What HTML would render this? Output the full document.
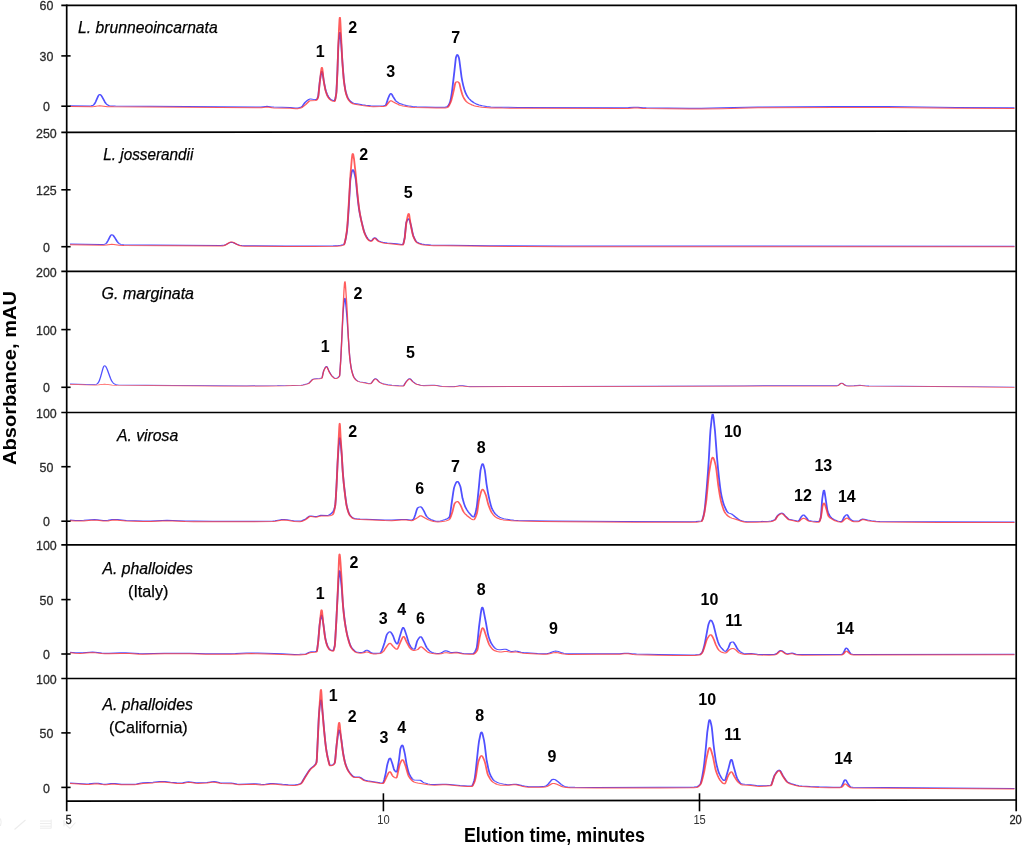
<!DOCTYPE html>
<html><head><meta charset="utf-8"><title>Chromatograms</title>
<style>
html,body{margin:0;padding:0;background:#fff;overflow:hidden;width:1024px;height:845px;}
svg{display:block;will-change:transform;}
text{font-family:"Liberation Sans", sans-serif;}
.b{fill:none;stroke:#5050ff;stroke-width:1.00;stroke-linejoin:round;}
.r{fill:none;stroke:#ff3434;stroke-opacity:0.80;stroke-width:1.00;stroke-linejoin:round;}
</style></head><body>
<svg width="1024" height="845" viewBox="0 0 1024 845">
<defs><filter id="bl" x="-1%" y="-1%" width="102%" height="102%"><feGaussianBlur stdDeviation="0 0.8"/></filter></defs>
<rect width="1024" height="845" fill="#fff"/>
<g transform="scale(1.800,1)">
<path d="M38.89 105.80L49.72,105.90 50.69,105.81 51.39,105.51 51.81,105.13 52.08,104.74 52.64,103.54 53.19,101.70 54.58,95.91 55.00,94.83 55.28,94.51 55.42,94.48 55.83,94.76 56.11,95.21 56.39,95.84 56.81,97.05 58.19,101.71 58.75,103.22 59.17,104.09 59.72,104.93 60.28,105.45 60.97,105.81 61.81,105.98 64.17,106.08 142.78,107.05 145.00,106.96 147.50,106.38 148.33,106.31 149.03,106.39 150.97,106.93 152.08,107.10 161.25,107.41 164.03,107.96 164.72,108.00 165.42,107.89 166.53,107.50 167.50,106.90 168.06,105.90 169.44,102.48 170.83,100.31 171.67,99.33 172.08,99.06 172.64,99.01 174.86,99.62 175.56,99.69 175.83,99.44 176.11,98.88 176.67,97.00 176.81,95.95 177.64,81.83 178.19,75.40 178.47,72.84 178.61,71.98 178.75,71.49 178.89,71.45 179.03,71.97 179.17,72.95 179.86,80.70 180.69,88.57 181.11,91.39 181.67,94.21 182.08,95.79 182.50,96.93 183.06,98.21 183.61,99.20 184.03,99.73 184.72,100.27 185.28,100.58 185.83,100.70 185.97,100.51 186.11,99.96 186.39,97.94 186.81,93.17 186.94,90.65 187.50,69.20 187.92,47.81 188.19,40.58 188.47,35.34 188.61,33.58 188.75,32.57 188.89,32.51 189.03,33.63 189.17,35.72 189.58,44.52 190.28,63.30 190.97,78.76 191.39,84.76 191.81,89.45 192.08,91.84 192.64,95.19 193.19,97.68 193.75,99.37 194.72,101.35 195.28,102.20 195.69,102.67 196.39,103.16 197.36,103.58 201.25,104.76 203.19,105.25 205.97,105.75 207.78,105.90 213.06,105.69 213.61,105.57 214.17,105.30 214.31,105.10 214.58,104.12 215.56,98.56 216.39,95.20 216.81,93.92 217.08,93.52 217.22,93.51 217.36,93.64 217.64,94.22 218.33,96.51 219.58,100.13 219.86,100.76 220.42,101.62 221.39,102.80 222.50,103.78 224.03,104.67 225.69,105.46 227.50,106.10 229.17,106.46 231.53,106.69 236.25,106.95 241.81,107.17 247.22,107.20 247.78,107.03 248.33,106.59 248.89,105.94 249.17,105.36 249.44,104.52 250.00,102.20 250.42,99.18 250.97,93.28 251.25,89.63 252.50,70.37 253.19,58.68 253.33,57.40 253.61,55.83 253.89,54.80 254.03,54.61 254.17,54.67 254.44,55.35 254.72,56.55 255.00,58.16 255.28,61.25 256.39,76.72 256.81,81.02 257.36,85.54 257.92,89.13 258.47,92.05 259.03,94.31 259.72,96.60 260.56,98.63 261.67,100.61 263.19,102.62 264.58,104.00 266.11,104.96 267.92,105.77 270.28,106.45 272.64,106.97 275.14,107.21 287.64,107.45 346.25,107.67 349.17,107.60 352.22,107.20 353.33,107.14 354.44,107.22 357.22,107.65 359.03,107.78 382.92,108.30 389.58,108.22 400.97,107.87 421.11,107.02 464.44,106.60 493.06,106.62 531.25,107.47 563.61,107.70" class="b"/>
<path d="M38.89 106.60L51.11,106.70 52.50,106.52 54.58,105.88 55.42,105.78 56.53,105.92 59.72,106.68 63.19,106.86 142.92,107.85 145.14,107.74 147.50,107.18 148.33,107.11 149.17,107.22 151.11,107.76 152.22,107.91 161.25,108.21 164.31,108.79 165.56,108.65 167.22,107.93 167.92,107.33 169.86,104.41 171.39,101.65 171.94,100.94 172.36,100.70 175.56,100.49 175.83,100.22 176.25,99.28 176.67,97.80 176.81,96.80 177.08,92.81 177.50,84.98 178.33,71.55 178.61,68.33 178.75,67.54 178.89,67.48 179.03,68.31 179.17,69.87 179.86,81.30 180.14,84.34 180.83,90.48 181.53,94.38 181.94,96.12 182.22,97.00 182.92,98.71 183.47,99.78 184.03,100.53 184.58,100.97 185.28,101.38 185.83,101.50 185.97,101.31 186.11,100.76 186.39,98.74 186.81,93.97 186.94,91.48 187.22,82.09 187.50,70.00 187.92,46.26 188.33,28.72 188.61,19.88 188.75,17.61 188.89,17.43 189.03,19.75 189.17,23.91 190.14,59.88 190.56,71.10 190.97,79.62 191.25,83.74 191.81,90.25 192.22,93.60 192.92,97.34 193.47,99.43 193.89,100.49 194.44,101.65 195.00,102.60 195.42,103.17 196.11,103.80 197.08,104.27 202.36,105.86 205.56,106.49 207.36,106.69 211.39,106.61 213.06,106.49 213.61,106.36 214.17,106.10 214.44,105.79 215.56,103.21 216.39,101.57 216.81,100.92 217.08,100.71 217.22,100.70 217.64,100.97 218.47,101.97 219.72,103.16 221.53,104.74 222.36,105.36 224.03,106.08 226.53,106.80 228.33,107.15 230.42,107.40 237.78,107.82 242.36,107.98 247.22,108.00 248.06,107.78 248.75,107.32 249.03,106.89 249.72,104.73 250.28,102.55 250.83,99.79 251.25,96.99 252.08,90.48 252.64,85.34 252.92,83.31 253.06,82.67 253.19,82.36 253.61,81.90 254.03,81.70 254.31,81.80 254.72,82.32 255.14,83.17 255.28,83.74 256.11,90.20 256.81,94.38 257.36,96.91 257.92,98.77 258.47,100.29 259.03,101.45 259.72,102.53 260.69,103.67 261.94,104.74 263.33,105.71 264.58,106.34 266.11,106.83 267.78,107.21 272.92,107.88 279.17,108.11 290.14,108.27 346.53,108.47 349.17,108.40 352.22,108.00 353.33,107.94 354.44,108.02 357.22,108.45 359.03,108.58 383.06,109.10 389.58,109.02 400.97,108.67 421.11,107.82 464.44,107.40 493.06,107.42 531.25,108.27 563.61,108.50" class="r"/>
<path d="M38.89 244.10L55.69,244.60 57.08,244.58 57.92,244.38 58.61,243.87 59.03,243.27 59.31,242.71 60.00,240.71 61.25,236.13 61.67,235.12 61.94,234.78 62.08,234.73 62.50,234.92 62.78,235.28 63.06,235.80 63.61,237.21 65.00,241.26 65.56,242.52 65.97,243.25 66.53,243.93 67.08,244.36 67.78,244.65 68.75,244.80 84.03,245.07 122.50,245.52 123.89,245.35 124.86,244.99 125.69,244.41 127.50,242.75 128.06,242.43 128.47,242.34 129.03,242.41 129.72,242.74 131.94,244.53 133.06,245.18 134.31,245.55 135.97,245.71 158.75,245.90 185.14,245.72 186.81,245.67 188.06,245.52 189.31,245.22 190.42,244.77 190.97,244.48 191.11,244.27 191.25,243.89 191.53,242.65 192.08,238.58 192.78,231.25 193.19,222.67 193.75,207.96 194.58,181.05 194.72,178.70 195.28,173.00 195.69,170.35 195.83,169.90 195.97,169.71 196.11,169.76 196.25,170.00 196.67,171.66 197.22,175.43 197.64,179.18 197.92,183.62 198.47,194.32 199.03,203.12 199.44,208.92 200.00,214.60 200.69,220.24 201.94,229.34 202.50,232.55 203.06,234.86 203.75,237.29 204.31,238.75 204.58,239.29 205.00,239.88 205.69,240.64 206.11,240.80 206.39,240.65 206.81,240.00 207.78,238.02 208.06,237.74 208.33,237.73 208.75,238.16 209.86,240.26 210.14,240.66 210.42,240.91 211.39,241.58 212.50,242.16 213.61,242.57 215.14,242.95 220.42,243.82 223.06,244.45 223.75,244.49 223.89,244.28 224.03,243.79 224.31,242.16 224.86,237.40 225.42,226.87 225.69,222.69 225.97,221.25 226.39,219.79 226.81,218.95 227.08,218.81 227.22,219.00 227.50,220.04 228.33,225.34 229.17,232.74 229.58,235.67 230.42,239.10 230.83,240.44 231.25,241.46 231.67,242.10 232.50,242.89 233.33,243.51 234.31,244.04 235.83,244.51 239.44,245.00 251.11,245.33 271.67,245.70 313.47,246.06 563.61,246.20" class="b"/>
<path d="M38.89 244.70L57.50,245.22 59.17,245.06 61.25,244.44 62.08,244.33 63.19,244.46 66.25,245.23 68.89,245.44 122.22,246.12 123.61,245.96 124.72,245.50 125.69,244.65 127.08,242.94 127.64,242.35 128.19,242.00 128.61,241.94 129.17,242.09 129.72,242.46 131.81,244.65 132.92,245.55 134.17,246.07 135.97,246.31 159.31,246.50 174.03,246.45 186.11,246.30 187.36,246.22 188.61,246.01 189.72,245.67 190.83,245.16 190.97,245.08 191.11,244.84 191.25,244.40 191.67,241.93 192.22,236.62 192.78,229.66 193.06,223.84 193.33,216.41 194.72,174.30 195.42,159.48 195.69,155.39 195.83,154.16 195.97,153.62 196.11,153.77 196.25,154.45 196.67,158.84 197.64,174.64 198.47,191.77 199.17,203.79 199.72,211.27 200.56,219.52 201.25,225.06 201.94,230.00 202.36,232.46 202.92,234.92 203.61,237.45 204.31,239.35 204.72,240.10 205.28,240.83 205.69,241.24 205.97,241.38 206.25,241.36 206.53,241.08 207.64,238.84 207.92,238.45 208.19,238.30 208.47,238.42 208.75,238.76 209.72,240.62 210.14,241.26 211.25,242.10 212.50,242.76 213.61,243.17 215.28,243.58 220.42,244.42 222.92,245.02 223.75,245.09 223.89,244.88 224.17,243.67 224.44,241.72 224.86,238.04 225.69,223.67 226.25,218.00 226.67,214.79 226.94,213.71 227.08,213.61 227.22,214.06 227.36,215.04 228.19,224.94 228.89,231.31 229.31,234.63 229.58,236.27 230.00,238.10 230.56,240.18 230.97,241.42 231.39,242.31 231.81,242.84 232.78,243.72 233.89,244.44 234.72,244.81 235.56,245.05 238.89,245.55 240.97,245.69 246.94,245.84 269.58,246.27 290.00,246.51 312.64,246.65 563.61,246.80" class="r"/>
<path d="M38.89 383.90L51.67,384.62 52.92,384.52 53.33,384.37 53.75,384.07 54.17,383.55 54.44,383.02 54.86,381.87 55.14,380.84 55.83,377.24 57.22,368.22 57.64,366.45 57.92,365.83 58.06,365.71 58.33,365.81 58.61,366.19 58.89,366.86 59.17,367.77 59.72,370.16 61.39,378.44 61.94,380.57 62.50,382.18 63.06,383.30 63.75,384.16 64.58,384.66 65.69,384.90 111.94,385.60 137.08,385.80 154.03,385.63 161.94,385.35 167.36,385.02 168.33,384.78 169.31,384.42 170.42,383.87 171.39,383.27 171.94,382.51 173.33,379.84 173.75,379.24 174.03,378.99 174.58,378.83 177.50,378.42 178.19,378.21 178.75,377.92 178.89,377.67 179.03,377.00 179.58,372.38 179.86,370.52 180.69,367.50 181.11,366.60 181.39,366.40 181.53,366.49 181.81,367.11 182.92,371.72 183.89,374.53 184.44,375.88 185.42,377.51 185.97,378.15 186.39,378.30 187.08,378.10 187.78,377.45 188.47,376.23 188.61,375.90 188.75,374.48 189.31,359.50 190.56,313.95 190.83,307.66 191.25,300.65 191.39,299.13 191.53,298.25 191.67,298.21 191.81,299.28 191.94,301.26 192.78,317.80 194.03,351.29 194.31,357.27 194.72,363.54 195.00,366.89 195.28,369.54 195.69,372.49 196.25,375.61 196.53,376.79 196.81,377.69 197.64,379.47 198.47,380.69 199.03,381.21 200.00,381.74 202.92,382.69 205.00,383.52 205.69,383.59 206.11,383.22 206.53,382.45 207.50,380.07 207.92,379.20 208.33,378.68 208.61,378.60 208.89,378.74 209.31,379.25 210.42,381.36 210.97,382.17 212.22,383.26 213.33,383.96 215.42,384.68 217.78,385.21 221.53,385.67 224.03,385.80 224.17,385.71 224.44,385.21 225.42,382.16 226.39,380.06 226.94,379.07 227.22,378.75 227.50,378.60 227.78,378.69 228.06,379.01 229.31,381.49 230.83,383.46 231.53,384.05 233.61,385.05 234.58,385.32 235.42,385.40 239.86,385.13 241.25,385.12 242.36,385.33 245.69,386.34 250.00,386.58 252.22,386.55 255.00,385.74 255.97,385.60 257.08,385.69 259.86,386.28 261.11,386.40 306.11,386.29 413.19,385.75 464.03,385.74 465.00,385.64 465.56,385.35 466.11,384.73 466.94,383.45 467.22,383.17 467.50,383.07 467.78,383.14 468.06,383.34 469.31,384.87 469.86,385.36 470.56,385.67 471.53,385.78 474.44,385.73 477.78,385.24 478.61,385.31 480.83,385.75 482.78,385.87 518.33,386.29 563.61,387.00" class="b" style="stroke-width:0.75"/>
<path d="M38.89 384.30L47.78,384.85 52.92,385.04 54.72,384.90 57.08,384.31 58.06,384.20 59.17,384.34 62.36,385.13 65.00,385.33 122.50,386.12 138.19,386.20 148.75,386.13 158.61,385.88 167.08,385.46 168.06,385.27 169.17,384.88 170.42,384.27 171.39,383.67 171.94,382.91 173.33,380.24 173.75,379.64 174.03,379.39 174.58,379.23 177.50,378.82 178.19,378.61 178.75,378.32 178.89,378.07 179.03,377.40 179.58,372.78 179.86,370.92 180.69,367.90 181.11,367.00 181.39,366.80 181.53,366.89 181.81,367.51 182.92,372.12 183.89,374.93 184.58,376.56 185.42,377.91 185.97,378.55 186.25,378.69 186.53,378.69 187.22,378.41 187.92,377.66 188.47,376.63 188.61,376.30 188.75,374.88 189.31,359.99 189.58,350.55 190.00,334.57 190.56,309.31 191.11,290.51 191.39,283.58 191.53,281.81 191.67,281.64 191.81,283.08 191.94,285.72 192.64,303.90 192.92,313.22 193.47,335.90 194.03,351.99 194.31,357.67 194.58,362.02 195.00,367.29 195.28,369.94 195.97,374.57 196.53,377.19 196.81,378.09 197.08,378.75 197.50,379.61 198.06,380.54 198.89,381.50 199.72,382.01 200.69,382.41 203.06,383.14 204.86,383.88 205.69,383.99 206.11,383.62 206.53,382.85 207.50,380.47 207.92,379.60 208.33,379.08 208.61,379.00 208.89,379.14 209.31,379.65 210.42,381.76 210.97,382.57 212.22,383.66 213.33,384.36 215.42,385.08 217.78,385.61 221.53,386.07 224.03,386.20 224.17,386.11 224.44,385.61 225.42,382.56 226.39,380.46 226.94,379.47 227.22,379.15 227.50,379.00 227.78,379.09 228.06,379.41 229.31,381.89 230.83,383.86 231.53,384.45 233.61,385.45 234.58,385.72 235.42,385.80 239.86,385.53 241.25,385.52 242.36,385.73 245.69,386.74 250.00,386.98 252.22,386.95 255.00,386.14 255.97,386.00 257.08,386.09 259.86,386.68 261.11,386.80 306.11,386.69 413.19,386.15 464.03,386.14 465.00,386.03 465.56,385.72 466.11,385.05 466.94,383.68 467.22,383.38 467.50,383.27 467.78,383.34 468.06,383.56 469.31,385.20 469.86,385.73 470.56,386.06 471.53,386.18 474.44,386.13 477.78,385.64 478.61,385.71 480.83,386.15 482.78,386.27 518.33,386.69 563.61,387.40" class="r" style="stroke-width:0.75"/>
<path d="M38.89 520.04L41.94,520.41 44.86,520.49 46.53,520.34 50.56,519.71 52.50,519.60 54.03,519.76 57.36,520.39 58.89,520.50 60.00,520.30 62.36,519.53 63.47,519.40 65.28,519.57 70.14,520.47 79.58,520.97 83.75,520.96 90.14,520.40 92.78,520.30 95.83,520.41 102.92,520.95 107.64,521.07 118.06,521.20 139.31,521.19 151.53,520.98 152.92,520.71 156.25,519.61 157.78,519.40 159.44,519.64 163.47,520.89 166.67,521.10 167.22,520.99 167.78,520.69 169.58,519.18 170.14,518.54 171.53,516.52 171.94,516.10 172.22,515.94 172.92,515.95 174.72,516.52 175.42,516.60 176.11,516.42 177.64,515.58 178.33,515.33 181.81,515.50 182.36,515.37 182.92,514.97 183.61,514.15 184.31,513.06 185.00,511.70 185.42,510.40 185.69,509.16 186.11,506.53 186.25,505.17 186.53,499.06 186.94,486.22 187.50,464.08 188.06,448.17 188.47,439.47 188.61,438.07 188.75,437.72 188.89,438.33 189.03,439.69 189.44,446.81 189.86,455.55 190.42,471.61 190.97,482.95 191.81,496.02 192.50,504.78 192.78,507.00 193.33,510.60 193.75,512.76 194.17,514.40 194.58,515.47 195.42,516.99 196.11,517.91 196.81,518.43 198.19,518.75 200.00,518.98 213.75,520.02 217.64,520.07 223.06,519.50 225.00,519.40 225.83,519.49 227.92,520.03 228.75,520.08 229.03,519.92 229.44,519.43 229.86,518.71 230.00,518.25 230.69,514.91 231.53,509.76 231.94,508.10 232.22,507.71 232.78,507.17 233.19,506.91 233.61,506.80 233.89,506.91 234.17,507.29 234.72,508.64 235.56,511.09 236.53,515.00 236.94,516.20 237.50,517.21 238.06,518.05 239.17,519.30 241.25,520.78 242.08,521.16 242.78,521.30 243.75,521.21 244.72,520.92 245.83,520.39 247.36,519.47 248.47,518.73 249.03,518.20 249.58,517.36 249.72,517.05 249.86,516.34 250.14,513.78 250.83,504.35 251.81,492.22 252.22,487.98 252.78,485.00 253.33,482.78 253.75,481.72 254.03,481.42 254.17,481.41 254.44,481.69 254.86,482.72 255.69,486.13 255.97,488.13 256.94,498.19 257.78,503.52 258.47,506.87 259.31,509.66 259.86,511.15 260.42,512.43 262.22,516.18 262.78,516.87 263.06,517.00 263.19,516.97 263.47,516.40 263.89,514.48 264.31,511.71 264.72,508.42 265.00,505.01 265.28,500.61 266.11,485.90 266.67,474.68 266.94,470.40 267.50,466.00 267.78,464.52 267.92,464.06 268.06,463.82 268.19,463.85 268.33,464.11 268.61,465.23 269.31,470.01 269.58,473.48 270.28,484.00 270.97,491.49 271.53,496.56 272.08,500.99 272.64,504.99 273.06,507.40 273.47,509.14 274.17,511.41 274.86,513.16 275.56,514.49 276.53,515.97 277.50,517.12 278.47,517.92 279.72,518.67 280.83,519.08 283.47,519.76 285.56,520.16 287.64,520.42 295.42,520.76 306.11,521.05 346.67,521.52 383.33,521.70 386.67,521.55 389.58,521.02 389.72,520.97 389.86,520.78 390.14,519.96 390.42,518.61 390.69,516.86 391.25,512.56 391.67,506.99 392.64,487.79 393.33,471.65 393.75,460.53 394.44,437.29 394.72,430.07 395.42,418.20 395.69,415.19 395.83,414.41 395.97,414.21 396.11,414.69 396.39,417.29 397.22,430.98 398.33,457.40 398.89,468.26 399.44,477.83 400.00,486.27 400.42,491.73 400.83,495.75 401.53,501.02 402.08,504.37 402.64,506.99 403.61,510.56 404.03,511.74 404.31,512.34 404.58,512.77 405.00,513.17 406.25,513.91 406.67,514.25 407.22,514.95 408.47,516.89 410.14,519.13 410.83,519.82 411.94,520.57 413.47,521.39 414.17,521.62 414.86,521.70 422.78,521.50 427.08,521.17 428.47,520.94 429.44,520.46 430.56,519.54 430.97,518.62 431.67,516.35 432.08,515.34 432.92,514.18 433.47,513.56 434.03,513.18 434.44,513.10 434.72,513.25 435.14,513.77 436.25,515.88 437.92,518.78 438.33,519.20 439.03,519.54 440.83,520.12 442.78,520.98 443.33,521.09 443.61,521.06 443.75,520.90 444.03,520.30 444.86,517.57 445.14,516.85 445.97,515.23 446.25,514.94 446.39,514.90 446.67,515.05 446.94,515.45 448.06,517.75 448.89,519.75 449.17,520.27 449.44,520.57 450.83,521.05 452.22,521.37 453.89,521.57 455.00,521.55 455.14,521.34 455.42,520.49 455.69,519.15 455.97,517.39 456.11,515.81 456.25,512.72 456.67,501.18 456.81,498.83 457.36,492.25 457.64,490.45 457.78,490.20 457.92,490.55 458.19,492.86 459.58,509.47 459.72,510.60 460.00,512.14 460.56,514.52 460.97,515.83 461.39,516.80 462.08,518.01 462.78,518.92 463.47,519.59 464.86,520.61 465.69,521.11 466.53,521.46 467.36,521.60 467.64,521.39 468.06,520.34 468.75,517.77 469.17,516.52 470.00,515.11 470.28,514.81 470.56,514.70 470.69,514.77 470.97,515.29 471.67,517.49 472.08,518.44 472.92,519.77 473.47,520.50 474.03,520.98 474.44,521.10 476.67,521.10 476.94,521.01 477.50,520.57 478.61,519.37 479.03,519.07 479.31,519.00 480.14,519.19 481.94,520.07 484.03,520.63 486.67,521.19 488.75,521.40 522.08,521.86 563.61,522.00" class="b"/>
<path d="M38.89 520.64L41.94,521.01 44.86,521.09 46.53,520.94 50.56,520.31 52.50,520.20 54.03,520.36 57.36,520.99 58.89,521.10 60.00,520.90 62.36,520.13 63.47,520.00 65.28,520.17 70.14,521.07 79.58,521.57 83.75,521.56 90.14,521.00 92.78,520.90 95.83,521.01 102.92,521.55 107.64,521.67 118.06,521.80 139.31,521.79 151.53,521.58 152.92,521.31 156.25,520.21 157.78,520.00 159.44,520.24 163.47,521.49 166.67,521.70 167.22,521.59 167.78,521.29 169.58,519.78 170.14,519.14 171.53,517.12 171.94,516.70 172.22,516.54 172.92,516.55 174.72,517.12 175.42,517.20 176.11,517.02 177.64,516.18 178.33,515.93 182.08,516.09 183.06,515.87 183.89,515.45 184.72,514.80 184.86,514.60 185.14,513.82 185.42,512.52 185.69,510.74 185.97,508.52 186.25,505.65 186.53,499.48 187.08,482.10 188.06,442.27 188.47,427.47 188.61,424.23 188.75,423.37 188.89,425.54 189.31,439.54 189.86,453.74 190.28,467.87 190.56,475.46 191.25,488.38 191.94,498.60 192.36,503.94 192.64,506.59 193.19,510.37 193.75,513.36 194.17,515.00 194.72,516.35 195.56,517.81 196.25,518.65 196.94,519.08 198.33,519.37 200.14,519.59 213.75,520.62 217.64,520.67 223.06,520.10 225.00,520.00 225.83,520.09 227.78,520.61 228.61,520.70 229.17,520.50 229.72,520.02 230.83,518.91 232.08,517.47 233.19,515.96 233.47,515.75 233.75,515.71 234.31,516.05 236.25,518.16 238.06,519.80 239.03,520.46 240.97,521.43 242.08,521.81 243.19,521.90 244.86,521.71 246.67,521.27 247.92,520.85 248.61,520.44 249.31,519.77 249.72,519.21 249.86,518.91 250.14,518.01 250.42,516.81 251.39,511.59 252.22,505.33 252.50,503.73 252.78,502.98 253.33,502.06 253.75,501.63 254.17,501.51 254.44,501.72 254.72,502.18 255.69,504.67 256.11,506.10 256.94,509.75 257.36,511.34 257.78,512.44 258.33,513.66 259.44,515.61 261.67,518.74 262.50,519.58 262.92,519.78 263.19,519.78 263.33,519.67 263.61,519.19 264.03,517.91 264.58,515.46 265.00,513.18 265.28,510.44 265.97,501.55 266.25,499.00 266.94,493.97 267.36,491.44 267.78,489.76 268.06,489.31 268.33,489.44 268.75,490.34 269.17,491.82 269.86,494.78 270.14,496.36 270.97,502.49 271.39,505.10 272.36,509.72 272.78,511.35 273.19,512.68 273.89,514.38 274.44,515.54 275.14,516.74 275.69,517.48 276.53,518.26 277.50,518.96 278.47,519.49 279.58,519.89 284.17,520.66 288.33,521.07 300.28,521.49 314.03,521.78 353.19,522.17 383.47,522.30 386.81,522.14 389.58,521.62 389.72,521.57 390.00,520.95 390.56,518.56 390.97,515.80 391.39,512.07 391.94,506.01 392.50,499.09 393.61,477.90 393.89,473.54 394.58,465.89 395.14,460.74 395.56,458.18 395.83,457.38 395.97,457.30 396.11,457.42 396.25,457.70 396.67,459.32 397.08,461.79 397.64,465.76 398.06,470.68 399.03,485.39 399.86,494.87 400.42,500.14 400.83,503.09 401.53,507.25 402.08,510.03 402.50,511.73 403.06,513.40 403.89,515.12 404.72,516.42 405.56,517.36 406.53,518.07 408.75,519.22 411.25,520.95 413.47,522.00 414.17,522.21 414.86,522.30 420.00,522.22 425.83,521.88 427.92,521.68 428.61,521.49 429.58,520.96 430.56,520.14 430.97,519.22 431.67,516.95 432.08,515.94 432.92,514.78 433.47,514.16 434.03,513.78 434.44,513.70 434.72,513.85 435.14,514.37 437.78,519.18 438.19,519.70 438.89,520.09 440.83,520.72 442.64,521.53 443.19,521.68 443.61,521.68 444.03,521.26 445.14,519.33 445.97,518.39 446.25,518.22 446.53,518.22 446.94,518.44 447.92,519.38 449.03,520.83 449.44,521.18 450.83,521.63 452.22,521.95 453.61,522.14 454.86,522.20 455.00,522.14 455.28,521.48 455.56,520.29 455.97,517.96 456.25,515.46 456.94,506.48 457.36,504.16 457.64,503.24 457.78,503.10 457.92,503.23 458.06,503.58 458.33,504.78 459.17,509.54 460.00,515.06 460.28,516.25 460.56,516.89 460.97,517.62 461.39,518.18 463.47,520.50 465.42,521.67 466.81,522.15 467.50,522.18 467.78,521.96 468.19,521.31 469.17,519.45 470.00,518.36 470.28,518.10 470.56,518.00 470.97,518.28 471.94,519.74 473.19,521.02 473.89,521.55 474.44,521.70 476.67,521.70 476.94,521.61 477.50,521.17 478.61,519.97 479.03,519.67 479.31,519.60 480.14,519.79 481.94,520.67 484.03,521.23 486.67,521.79 488.75,522.00 522.08,522.46 563.61,522.60" class="r"/>
<path d="M38.89 652.23L41.81,652.66 44.58,652.80 46.11,652.69 49.72,652.17 51.39,652.11 52.92,652.27 56.53,652.98 58.19,653.18 60.56,653.17 66.94,652.85 69.72,652.81 72.08,652.97 77.22,653.58 79.31,653.70 91.39,653.20 105.28,653.21 114.31,653.70 128.19,653.70 130.83,653.58 136.94,653.09 139.72,653.00 143.19,653.10 156.94,653.85 163.61,654.39 166.53,654.32 169.58,653.97 170.28,653.61 171.67,652.45 172.22,652.09 173.06,651.85 175.14,651.57 175.83,651.33 175.97,651.13 176.11,650.31 176.25,648.95 176.81,640.82 177.50,625.82 177.64,623.75 178.19,617.38 178.47,615.45 178.61,615.04 178.75,615.11 178.89,615.73 179.03,616.79 179.72,624.74 180.56,636.58 180.97,640.24 181.53,643.97 181.81,645.34 182.22,646.88 182.64,648.16 183.06,649.13 183.33,649.58 184.03,650.21 184.58,650.53 185.00,650.58 185.14,650.39 185.28,650.00 185.69,647.80 185.97,645.64 186.11,643.39 186.81,622.29 187.36,602.18 188.06,580.05 188.33,573.36 188.47,571.40 188.61,570.70 188.75,571.08 188.89,572.13 189.31,578.08 189.86,588.33 190.56,605.31 191.25,617.13 191.67,622.78 192.08,627.46 192.64,632.81 193.06,636.16 194.17,643.11 194.72,645.74 195.14,647.13 196.25,649.61 196.81,650.58 197.22,651.16 197.64,651.61 198.06,651.92 199.44,652.38 200.56,652.52 201.39,652.37 202.08,651.87 203.33,650.42 203.61,650.26 203.89,650.22 204.17,650.32 204.58,650.66 205.69,652.08 206.25,652.69 207.08,653.19 207.92,653.34 209.17,653.29 211.11,652.91 211.39,652.71 211.67,652.14 211.94,651.25 212.64,648.08 213.75,642.14 214.58,636.31 214.86,634.78 215.14,633.90 215.69,632.70 216.11,632.06 216.53,631.72 216.81,631.75 217.08,632.08 217.64,633.45 218.47,636.26 219.31,640.53 219.58,641.62 220.28,643.56 220.56,643.96 220.69,643.99 220.83,643.81 220.97,643.40 221.25,642.05 221.94,637.52 223.33,629.34 223.75,627.79 223.89,627.56 224.03,627.50 224.17,627.62 224.44,628.31 224.86,630.12 225.83,635.26 226.94,642.14 227.36,644.10 228.06,646.40 228.61,647.84 229.03,648.55 229.58,649.04 230.14,649.29 230.28,649.28 230.42,649.04 230.56,648.58 230.83,647.15 231.53,642.42 231.81,640.91 232.36,639.16 232.92,637.70 233.33,636.96 233.61,636.72 233.75,636.70 233.89,636.78 234.17,637.22 234.58,638.40 235.83,642.89 236.81,646.77 237.22,648.00 238.06,649.80 238.75,651.07 239.44,652.01 240.00,652.47 241.11,652.97 242.22,653.32 243.19,653.46 244.03,653.39 245.00,652.97 245.56,652.50 246.81,651.14 247.22,650.86 247.64,650.78 248.33,650.99 250.00,652.18 250.83,652.53 251.39,652.56 253.06,652.22 253.75,652.21 254.58,652.40 256.67,653.24 257.50,653.47 261.11,653.76 262.64,653.80 262.92,653.70 263.33,653.14 263.89,651.68 264.44,649.55 264.86,647.48 265.00,646.13 265.28,642.09 266.11,627.15 267.08,613.59 267.50,609.13 267.78,607.49 267.92,607.21 268.06,607.30 268.19,607.68 268.61,610.19 270.00,623.15 270.97,633.00 271.39,636.26 272.08,639.99 272.78,642.85 273.61,645.19 274.58,647.38 275.14,648.35 275.56,648.89 275.97,649.24 276.67,649.54 277.36,649.70 278.06,649.72 280.14,649.20 280.83,649.22 281.53,649.57 283.06,650.94 283.89,651.42 284.44,651.46 285.97,651.12 286.67,651.12 287.36,651.32 289.44,652.28 290.83,652.61 298.61,653.50 301.53,653.67 303.06,653.66 304.03,653.51 304.86,653.22 305.69,652.75 307.64,651.40 308.19,651.15 308.75,651.07 309.31,651.14 310.00,651.40 312.22,652.81 313.33,653.37 314.58,653.71 315.97,653.85 332.36,653.70 342.64,653.77 344.31,653.66 346.94,653.22 347.92,653.15 349.03,653.25 351.81,653.87 353.61,654.09 366.11,654.57 375.69,654.82 383.61,654.90 386.39,654.79 388.75,654.48 389.03,654.27 389.31,653.91 390.00,652.50 390.28,651.59 390.56,650.23 391.25,645.77 391.67,642.57 393.33,626.53 393.61,624.32 393.75,623.53 394.31,621.23 394.58,620.44 394.86,620.10 395.14,620.31 395.42,620.95 395.83,622.45 396.39,624.93 398.19,637.95 398.75,641.15 399.31,643.85 399.72,645.37 400.28,646.88 400.83,648.08 401.94,650.18 402.36,650.86 402.78,651.30 403.06,651.40 403.19,651.36 403.47,651.03 403.89,650.12 404.72,647.63 405.56,643.57 405.83,642.66 405.97,642.48 406.53,642.08 407.22,641.91 407.50,642.22 407.78,642.86 408.61,645.24 409.58,648.52 409.86,649.24 410.28,650.07 411.11,651.48 411.81,652.38 412.92,653.42 413.61,653.79 417.36,653.51 418.47,653.67 420.83,654.29 421.94,654.48 427.22,654.60 429.86,654.51 430.56,654.29 431.25,653.76 431.81,653.02 433.06,650.94 433.47,650.56 433.75,650.50 434.17,650.62 434.58,650.95 436.25,653.04 436.67,653.44 437.08,653.69 437.50,653.79 437.92,653.75 439.31,653.16 440.00,653.08 440.56,653.27 442.22,654.23 443.33,654.51 445.83,654.56 467.08,654.42 467.78,654.19 468.06,653.92 468.33,653.47 468.75,652.36 469.72,648.71 470.00,648.13 470.14,648.04 470.42,648.15 470.83,648.85 471.94,651.99 472.36,652.96 472.64,653.44 472.92,653.79 473.33,654.12 473.75,654.29 474.44,654.39 563.61,654.20" class="b"/>
<path d="M38.89 652.83L41.81,653.26 44.58,653.40 46.11,653.29 49.72,652.77 51.39,652.71 52.92,652.87 56.53,653.58 58.19,653.78 60.56,653.77 66.94,653.45 69.72,653.41 72.08,653.57 77.22,654.18 79.31,654.30 91.39,653.80 105.28,653.81 114.31,654.30 128.19,654.30 130.83,654.18 136.94,653.69 139.72,653.60 143.19,653.70 156.94,654.45 163.61,654.99 166.53,654.92 169.58,654.57 170.28,654.21 171.67,653.05 172.22,652.69 173.06,652.45 175.14,652.17 175.83,651.93 175.97,651.73 176.11,650.91 176.25,649.55 176.81,641.42 177.50,626.79 178.06,616.46 178.33,612.09 178.47,610.63 178.61,609.87 178.75,610.00 178.89,611.13 179.03,613.04 179.58,623.41 180.42,635.60 180.69,638.54 181.25,642.86 181.67,645.30 181.94,646.50 182.50,648.36 182.92,649.45 183.33,650.18 183.89,650.70 184.44,651.07 185.00,651.18 185.14,650.99 185.42,650.02 185.69,648.40 185.97,646.24 186.25,640.54 186.94,618.38 187.50,598.03 188.33,558.75 188.47,555.27 188.61,554.00 188.75,554.65 188.89,556.43 189.17,562.40 189.72,577.39 190.42,601.89 190.69,608.70 190.97,613.75 191.39,619.94 191.94,626.57 192.50,632.17 193.06,636.76 193.75,641.30 194.44,645.12 195.00,647.33 195.56,648.74 196.11,649.94 197.08,651.58 197.50,652.08 197.92,652.43 199.17,652.91 200.42,653.14 201.39,653.10 202.08,652.84 203.33,652.02 203.75,651.91 204.17,652.00 204.58,652.23 206.25,653.55 207.22,653.90 208.06,653.96 209.17,653.88 211.39,653.41 212.08,652.78 213.06,651.30 213.33,650.64 213.89,648.89 215.56,644.64 216.11,643.67 216.39,643.40 216.67,643.30 216.94,643.44 217.22,643.83 218.33,646.30 219.58,648.50 220.14,649.18 220.42,649.30 220.56,649.26 220.83,648.81 221.25,647.46 222.22,643.13 223.47,638.11 223.89,636.86 224.17,636.51 224.31,636.53 224.44,636.69 224.72,637.36 225.83,641.92 227.08,646.15 227.64,647.75 228.06,648.60 228.75,649.64 229.17,650.14 229.58,650.44 230.00,650.49 230.56,650.36 231.94,649.60 232.36,649.10 233.33,647.28 233.61,646.93 233.89,646.80 234.31,647.00 234.72,647.50 237.22,651.54 237.78,652.25 239.03,653.10 240.42,653.59 242.36,654.00 243.75,654.07 245.00,653.83 246.81,652.89 247.50,652.69 248.33,652.74 250.00,653.20 250.83,653.31 253.47,652.80 254.58,653.00 256.67,653.84 257.50,654.07 260.83,654.35 262.92,654.35 263.47,653.93 264.17,652.84 265.00,650.82 265.28,649.72 265.56,647.38 266.39,638.09 267.08,632.79 267.64,629.21 267.92,628.14 268.06,627.87 268.19,627.80 268.47,628.18 268.89,629.66 271.25,642.36 271.67,644.23 272.36,646.32 273.19,648.37 273.89,649.66 274.58,650.48 276.25,651.52 277.64,651.96 278.61,651.96 280.28,651.51 280.97,651.44 281.67,651.55 283.19,652.12 283.89,652.26 286.53,651.99 287.22,652.12 289.17,652.85 290.28,653.13 298.19,654.06 301.94,654.29 303.89,654.21 305.28,653.84 307.78,652.65 308.75,652.47 310.00,652.71 312.22,653.72 313.33,654.12 314.58,654.36 315.97,654.46 332.22,654.30 342.64,654.37 344.31,654.26 346.94,653.82 347.92,653.75 349.03,653.85 351.81,654.47 353.47,654.68 365.00,655.13 375.00,655.41 383.33,655.50 386.11,655.41 388.61,655.11 388.89,654.99 389.31,654.49 390.14,652.74 390.56,651.15 391.39,647.02 392.36,641.14 392.78,639.18 393.47,637.07 394.03,635.68 394.44,634.98 394.86,634.70 395.00,634.74 395.28,635.12 395.83,636.74 396.67,639.88 397.64,644.64 398.75,648.61 399.03,649.36 399.44,650.20 400.00,651.09 400.56,651.79 401.11,652.27 401.94,652.71 402.64,652.95 403.19,652.97 403.47,652.76 403.75,652.38 404.86,650.24 405.28,649.65 406.39,648.69 406.81,648.47 407.22,648.40 407.78,648.71 408.89,650.04 410.14,652.32 410.56,652.90 411.39,653.44 413.06,654.22 413.61,654.39 417.36,654.11 418.47,654.27 420.83,654.89 421.94,655.08 427.22,655.20 429.86,655.11 430.56,654.89 431.25,654.36 431.81,653.62 433.06,651.54 433.47,651.16 433.75,651.10 434.17,651.22 434.58,651.55 436.25,653.64 436.67,654.04 437.08,654.29 437.50,654.39 437.92,654.35 439.31,653.76 440.00,653.68 440.56,653.87 442.22,654.83 443.33,655.11 445.56,655.16 466.94,655.04 467.78,654.89 468.33,654.45 468.75,653.78 469.72,651.55 470.00,651.20 470.14,651.14 470.42,651.21 470.83,651.63 471.94,653.54 472.64,654.42 473.33,654.84 474.31,654.99 563.61,654.80" class="r"/>
<path d="M38.89 782.96L48.06,783.89 49.44,783.83 52.36,783.30 53.61,783.20 54.58,783.32 56.94,784.02 58.06,784.20 59.03,784.13 61.67,783.60 62.78,783.50 63.89,783.59 67.50,784.19 74.58,784.20 75.83,783.99 78.47,783.07 79.44,782.83 85.00,782.28 88.61,781.53 90.14,781.40 91.67,781.55 94.72,782.20 98.19,782.80 100.42,783.00 101.53,782.83 103.75,782.02 104.72,781.81 105.97,781.92 108.75,782.72 110.00,782.80 115.00,782.47 117.78,781.70 118.89,781.61 120.00,781.83 122.22,782.66 123.19,782.93 128.33,783.04 129.31,783.25 131.67,784.01 132.92,784.20 140.97,783.70 142.22,783.82 145.00,784.33 146.25,784.40 147.50,784.23 150.14,783.60 151.53,783.50 153.19,783.65 156.94,784.29 160.14,784.70 163.06,784.90 163.89,784.82 164.86,784.58 165.83,784.19 166.81,783.68 167.08,783.41 167.36,782.96 167.92,781.66 169.44,777.01 171.39,771.45 172.08,769.62 172.78,768.20 174.31,766.05 175.14,764.50 175.56,763.37 175.83,762.10 175.97,760.05 176.11,756.00 176.94,723.06 177.22,713.78 177.64,706.29 177.92,702.50 178.19,700.30 178.33,700.00 178.47,700.52 178.75,703.97 179.44,716.79 180.14,731.59 180.69,741.43 181.11,747.71 181.53,752.51 182.08,757.64 182.78,762.75 183.06,764.43 183.19,764.98 183.33,765.27 183.75,765.25 184.31,765.03 185.00,764.56 185.28,764.23 185.56,763.74 185.97,762.59 186.11,761.42 186.25,759.45 186.94,745.88 187.64,736.22 188.06,731.61 188.33,730.05 188.47,729.91 188.61,730.22 188.75,730.90 189.17,734.51 189.72,740.51 190.56,752.40 191.11,757.86 191.53,761.33 191.94,764.10 192.64,767.43 193.33,770.05 194.17,772.38 195.69,775.60 196.25,776.44 196.67,776.84 197.08,777.00 199.31,777.00 199.72,777.10 200.42,777.67 202.08,779.75 202.78,780.30 204.17,780.81 207.50,781.65 211.11,782.80 212.64,783.00 212.78,782.92 213.06,782.10 213.47,779.66 214.31,773.28 215.00,766.17 215.28,763.85 215.97,759.87 216.25,758.72 216.53,758.14 216.67,758.12 216.81,758.29 216.94,758.64 217.22,759.74 218.06,764.09 218.75,768.68 219.03,770.05 219.44,771.10 219.86,771.85 220.14,772.09 220.28,772.07 220.42,771.74 220.56,771.08 220.83,769.00 221.67,760.07 222.36,749.55 222.50,748.40 222.92,746.39 223.19,745.49 223.47,745.10 223.61,745.19 223.89,746.12 224.44,749.88 225.00,754.49 225.83,763.83 226.39,768.30 226.94,772.08 227.36,774.11 228.19,776.71 228.89,778.44 229.31,779.20 229.58,779.57 229.86,779.81 230.14,779.90 233.33,780.15 233.89,780.64 234.86,782.01 235.42,782.58 237.78,783.86 238.75,784.24 239.72,784.50 241.39,784.59 245.83,784.14 247.78,784.13 249.86,784.39 255.56,785.46 259.86,785.91 262.08,785.98 262.22,785.83 262.50,785.19 262.92,783.52 263.47,780.41 263.75,778.31 264.17,772.83 265.69,747.31 266.11,741.33 266.94,734.13 267.22,732.66 267.36,732.25 267.50,732.10 267.64,732.23 267.78,732.58 268.06,733.87 268.89,740.20 269.31,745.03 270.28,759.53 271.25,768.26 271.67,771.22 272.08,773.56 272.64,775.74 273.19,777.56 273.89,779.41 274.44,780.51 275.00,781.26 275.97,782.17 276.94,782.84 277.92,783.36 280.42,784.36 281.81,784.68 282.92,784.65 285.56,784.13 286.67,784.16 287.50,784.44 289.86,785.56 292.36,786.36 293.61,786.64 299.31,786.70 301.67,786.61 302.78,786.28 303.33,785.88 303.75,785.43 304.58,784.08 306.39,780.14 306.94,779.41 307.36,779.23 308.06,779.45 308.89,780.18 309.58,781.09 311.67,784.26 312.36,785.13 313.06,785.83 313.75,786.35 314.58,786.78 315.42,787.04 316.53,787.21 319.44,787.32 330.56,787.40 366.11,787.33 383.75,787.19 385.56,787.08 387.08,786.84 387.50,786.58 388.06,785.95 388.47,785.27 389.03,784.13 389.17,783.69 389.44,782.31 390.00,777.97 390.83,769.27 391.25,763.47 392.08,748.98 392.92,732.36 393.75,722.09 394.03,720.15 394.17,719.74 394.31,719.76 394.44,720.08 394.72,721.45 395.14,724.62 395.42,727.27 395.69,731.54 396.39,744.28 396.94,752.08 397.64,760.55 398.33,766.44 399.03,771.00 399.44,773.10 399.72,774.20 400.56,777.04 401.11,778.66 401.67,779.89 401.94,780.29 402.22,780.54 402.50,780.58 402.64,780.42 402.78,780.09 403.06,779.02 403.47,776.65 404.72,768.54 405.69,761.54 405.97,760.15 406.11,759.70 406.25,759.44 406.39,759.42 406.53,759.68 406.81,760.88 407.64,766.82 408.89,774.92 409.31,777.25 409.58,778.41 410.28,780.59 410.83,782.07 411.25,782.94 411.81,783.68 412.78,784.08 414.03,784.37 416.94,784.83 420.28,785.61 421.81,785.79 424.03,785.76 426.39,785.57 428.19,785.25 428.47,784.71 428.75,783.68 430.00,776.62 430.42,774.84 431.39,772.27 431.94,771.06 432.50,770.28 432.92,770.10 433.19,770.31 433.61,771.17 435.00,775.91 436.39,779.60 437.08,781.19 437.64,782.07 438.33,782.75 439.17,783.38 442.08,784.97 443.75,785.64 445.56,785.96 450.14,786.50 455.14,786.87 462.78,787.14 465.69,787.19 466.53,787.13 467.08,786.82 467.36,786.47 467.64,785.91 468.06,784.60 469.03,780.55 469.31,779.90 469.44,779.78 469.72,779.87 470.14,780.59 471.39,784.55 471.81,785.62 472.08,786.16 472.36,786.56 472.78,786.95 473.19,787.16 473.89,787.30 563.61,788.50" class="b"/>
<path d="M38.89 783.56L48.06,784.49 49.44,784.43 52.36,783.90 53.61,783.80 54.58,783.92 56.94,784.62 58.06,784.80 59.03,784.73 61.67,784.20 62.78,784.10 63.89,784.19 67.50,784.79 74.58,784.80 75.83,784.59 78.47,783.67 79.44,783.43 85.00,782.88 88.61,782.13 90.14,782.00 91.67,782.15 94.72,782.80 98.19,783.40 100.42,783.60 101.53,783.43 103.75,782.62 104.72,782.41 105.97,782.52 108.75,783.32 110.00,783.40 115.00,783.07 117.78,782.30 118.89,782.21 120.00,782.43 122.22,783.26 123.19,783.53 128.33,783.64 129.31,783.85 131.67,784.61 132.92,784.80 140.97,784.30 142.22,784.42 145.00,784.93 146.25,785.00 147.50,784.83 150.14,784.20 151.53,784.10 153.19,784.25 156.94,784.89 160.14,785.30 163.06,785.50 163.89,785.42 164.86,785.18 165.83,784.79 166.81,784.28 167.08,784.01 167.36,783.56 167.92,782.26 169.44,777.61 171.39,772.05 172.08,770.22 172.78,768.80 174.31,766.65 175.14,765.10 175.56,763.97 175.83,762.70 175.97,760.65 176.11,756.60 177.08,719.44 177.64,702.43 178.06,692.14 178.19,690.27 178.33,689.60 178.47,690.72 178.61,693.69 179.17,711.80 179.44,718.23 180.00,729.61 180.83,744.28 181.25,750.03 181.81,755.85 182.78,763.35 183.06,765.03 183.19,765.58 183.33,765.87 183.75,765.85 184.44,765.55 185.14,765.02 185.56,764.34 185.83,763.64 185.97,763.19 186.11,762.10 186.39,757.85 187.92,727.52 188.19,723.76 188.33,722.76 188.47,722.52 188.61,723.21 188.75,724.72 189.44,737.45 190.14,747.72 190.56,753.01 190.97,757.17 191.53,761.93 192.08,765.44 192.92,769.16 193.75,771.92 194.58,773.91 195.56,775.95 196.11,776.86 196.67,777.44 197.08,777.60 199.31,777.60 199.72,777.70 200.42,778.27 202.08,780.35 202.78,780.90 204.17,781.41 207.50,782.25 210.83,783.33 212.64,783.60 212.78,783.56 213.06,783.14 213.61,781.40 215.69,773.41 216.11,772.27 216.39,771.82 216.53,771.72 216.67,771.71 216.81,771.84 217.08,772.44 217.92,775.38 218.33,776.40 219.03,777.29 219.58,777.81 220.14,777.99 220.28,777.79 220.42,777.32 220.69,775.75 221.67,767.32 222.08,764.47 222.64,762.18 223.06,760.70 223.33,760.02 223.61,759.71 223.75,759.73 224.03,760.23 224.44,761.83 225.42,766.67 226.53,773.73 226.81,775.21 227.08,776.32 227.92,778.57 228.61,780.10 229.44,781.44 230.14,782.12 231.39,782.82 232.78,783.35 237.92,784.76 239.58,785.11 241.39,785.19 245.83,784.74 247.78,784.73 249.86,784.99 255.42,786.04 259.72,786.50 262.08,786.58 262.36,786.27 262.78,785.24 263.33,783.20 263.75,781.35 264.17,778.55 264.44,776.23 265.28,766.29 265.69,762.18 266.11,759.88 266.67,757.37 267.08,756.08 267.36,755.66 267.50,755.60 267.78,755.83 268.19,756.88 268.61,758.51 269.31,761.71 269.72,764.52 270.42,770.48 270.83,773.58 271.25,775.52 272.22,778.68 272.64,779.78 273.19,781.00 273.61,781.75 274.17,782.50 275.14,783.50 276.11,784.31 276.94,784.82 277.78,785.15 278.61,785.30 282.50,785.29 285.28,784.77 286.39,784.72 287.36,784.98 289.86,786.16 292.22,786.92 293.47,787.22 294.44,787.30 301.67,787.26 302.78,787.09 303.75,786.66 304.58,785.95 306.39,783.89 306.94,783.51 307.36,783.43 308.06,783.56 308.89,783.97 311.67,786.21 313.06,787.07 314.58,787.60 316.67,787.86 331.81,788.00 366.39,787.93 383.61,787.80 385.42,787.69 386.94,787.49 387.36,787.28 387.78,786.87 388.19,786.29 388.75,785.31 389.03,784.74 389.31,783.92 389.72,782.05 390.42,777.70 391.25,771.48 392.36,759.79 393.33,751.68 393.75,748.92 394.03,747.84 394.17,747.62 394.31,747.63 394.44,747.82 394.72,748.65 395.28,751.55 396.11,756.94 397.50,769.45 397.92,771.85 398.61,775.22 399.31,777.95 400.00,779.97 400.83,781.85 401.39,782.92 401.94,783.66 402.36,783.89 402.64,783.77 402.78,783.52 403.06,782.72 403.47,780.94 404.31,776.76 404.72,775.12 405.42,773.23 405.83,772.29 406.11,771.91 406.39,771.81 406.67,772.13 406.94,772.82 408.06,776.74 409.17,779.97 409.72,781.42 410.14,782.25 410.97,783.54 411.53,784.27 412.08,784.79 412.50,784.99 413.19,785.10 417.22,785.47 420.42,786.21 421.67,786.38 425.28,786.28 428.19,785.85 428.47,785.31 428.75,784.28 430.00,777.22 430.42,775.44 431.39,772.87 431.94,771.66 432.50,770.88 432.92,770.70 433.19,770.91 433.61,771.77 435.00,776.51 436.39,780.20 437.08,781.79 437.64,782.67 438.33,783.35 439.17,783.98 442.08,785.57 443.75,786.24 445.56,786.56 450.00,787.09 454.86,787.45 460.56,787.69 466.53,787.77 467.08,787.61 467.64,787.13 468.06,786.43 469.03,784.28 469.31,783.94 469.44,783.87 469.72,783.93 470.14,784.31 471.39,786.43 472.08,787.29 472.78,787.72 473.89,787.91 563.61,789.10" class="r"/>
</g>
<line x1="66.7" y1="4.5" x2="66.7" y2="811.3" stroke="#000" stroke-width="1.7"/>
<line x1="1016.2" y1="4.5" x2="1016.2" y2="811.3" stroke="#000" stroke-width="1.7"/>
<line x1="66.7" y1="801.2" x2="1016.2" y2="800.0" stroke="#000" stroke-width="1.7"/>
<line x1="61.3" y1="5.3" x2="1016.2" y2="5.3" stroke="#000" stroke-width="1.7"/>
<line x1="61.3" y1="132.3" x2="1016.2" y2="131.0" stroke="#000" stroke-width="1.7"/>
<line x1="61.3" y1="271.4" x2="1016.2" y2="271.4" stroke="#000" stroke-width="1.7"/>
<line x1="61.3" y1="412.5" x2="1016.2" y2="412.5" stroke="#000" stroke-width="1.7"/>
<line x1="61.3" y1="544.8" x2="1016.2" y2="544.8" stroke="#000" stroke-width="1.7"/>
<line x1="61.3" y1="678.5" x2="1016.2" y2="678.5" stroke="#000" stroke-width="1.7"/>
<line x1="61.3" y1="106.2" x2="70.6" y2="106.2" stroke="#000" stroke-width="1.6"/>
<line x1="61.3" y1="246.7" x2="70.6" y2="246.7" stroke="#000" stroke-width="1.6"/>
<line x1="61.3" y1="387.3" x2="70.6" y2="387.3" stroke="#000" stroke-width="1.6"/>
<line x1="61.3" y1="521.2" x2="70.6" y2="521.2" stroke="#000" stroke-width="1.6"/>
<line x1="61.3" y1="654.0" x2="70.6" y2="654.0" stroke="#000" stroke-width="1.6"/>
<line x1="61.3" y1="787.4" x2="70.6" y2="787.4" stroke="#000" stroke-width="1.6"/>
<line x1="61.3" y1="55.9" x2="70.6" y2="55.9" stroke="#000" stroke-width="1.6"/>
<line x1="61.3" y1="189.8" x2="70.6" y2="189.8" stroke="#000" stroke-width="1.6"/>
<line x1="61.3" y1="329.6" x2="70.6" y2="329.6" stroke="#000" stroke-width="1.6"/>
<line x1="61.3" y1="466.7" x2="70.6" y2="466.7" stroke="#000" stroke-width="1.6"/>
<line x1="61.3" y1="599.6" x2="70.6" y2="599.6" stroke="#000" stroke-width="1.6"/>
<line x1="61.3" y1="732.9" x2="70.6" y2="732.9" stroke="#000" stroke-width="1.6"/>
<line x1="383.4" y1="793.3" x2="383.4" y2="811.3" stroke="#000" stroke-width="1.6"/>
<line x1="699.5" y1="793.3" x2="699.5" y2="811.3" stroke="#000" stroke-width="1.6"/>
<path d="M0.5 818.5 Q1.8 822 0.5 826" fill="none" stroke="#ececec" stroke-width="1"/>
<path d="M14.5 829.5 L25.5 820" fill="none" stroke="#ececec" stroke-width="1.1"/>
<path d="M40 821 H51 M40 823.6 H51 M40 826.2 H51 M40 828.2 H51 M51.2 819.5 V828.5" fill="none" stroke="#ececec" stroke-width="1"/>
<path d="M64 820 V826.5 M64.5 823.5 L70 828.5 L75.5 822.5" fill="none" stroke="#ececec" stroke-width="1.1"/>
<text x="46.4" y="10.4" font-size="13.0" text-anchor="middle" font-weight="normal" font-style="normal" fill="#2a2a2a" stroke="#2a2a2a" stroke-width="0.3" textLength="13.8" lengthAdjust="spacingAndGlyphs">60</text>
<text x="46.4" y="137.5" font-size="13.0" text-anchor="middle" font-weight="normal" font-style="normal" fill="#2a2a2a" stroke="#2a2a2a" stroke-width="0.3" textLength="20.7" lengthAdjust="spacingAndGlyphs">250</text>
<text x="46.4" y="276.5" font-size="13.0" text-anchor="middle" font-weight="normal" font-style="normal" fill="#2a2a2a" stroke="#2a2a2a" stroke-width="0.3" textLength="20.7" lengthAdjust="spacingAndGlyphs">200</text>
<text x="46.4" y="417.6" font-size="13.0" text-anchor="middle" font-weight="normal" font-style="normal" fill="#2a2a2a" stroke="#2a2a2a" stroke-width="0.3" textLength="20.7" lengthAdjust="spacingAndGlyphs">100</text>
<text x="46.4" y="549.9" font-size="13.0" text-anchor="middle" font-weight="normal" font-style="normal" fill="#2a2a2a" stroke="#2a2a2a" stroke-width="0.3" textLength="20.7" lengthAdjust="spacingAndGlyphs">100</text>
<text x="46.4" y="683.6" font-size="13.0" text-anchor="middle" font-weight="normal" font-style="normal" fill="#2a2a2a" stroke="#2a2a2a" stroke-width="0.3" textLength="20.7" lengthAdjust="spacingAndGlyphs">100</text>
<text x="46.4" y="61.0" font-size="13.0" text-anchor="middle" font-weight="normal" font-style="normal" fill="#2a2a2a" stroke="#2a2a2a" stroke-width="0.3" textLength="13.8" lengthAdjust="spacingAndGlyphs">30</text>
<text x="46.4" y="194.9" font-size="13.0" text-anchor="middle" font-weight="normal" font-style="normal" fill="#2a2a2a" stroke="#2a2a2a" stroke-width="0.3" textLength="20.7" lengthAdjust="spacingAndGlyphs">125</text>
<text x="46.4" y="334.7" font-size="13.0" text-anchor="middle" font-weight="normal" font-style="normal" fill="#2a2a2a" stroke="#2a2a2a" stroke-width="0.3" textLength="20.7" lengthAdjust="spacingAndGlyphs">100</text>
<text x="46.4" y="471.8" font-size="13.0" text-anchor="middle" font-weight="normal" font-style="normal" fill="#2a2a2a" stroke="#2a2a2a" stroke-width="0.3" textLength="13.8" lengthAdjust="spacingAndGlyphs">50</text>
<text x="46.4" y="604.7" font-size="13.0" text-anchor="middle" font-weight="normal" font-style="normal" fill="#2a2a2a" stroke="#2a2a2a" stroke-width="0.3" textLength="13.8" lengthAdjust="spacingAndGlyphs">50</text>
<text x="46.4" y="738.0" font-size="13.0" text-anchor="middle" font-weight="normal" font-style="normal" fill="#2a2a2a" stroke="#2a2a2a" stroke-width="0.3" textLength="13.8" lengthAdjust="spacingAndGlyphs">50</text>
<text x="46.4" y="111.3" font-size="13.0" text-anchor="middle" font-weight="normal" font-style="normal" fill="#2a2a2a" stroke="#2a2a2a" stroke-width="0.3" textLength="6.9" lengthAdjust="spacingAndGlyphs">0</text>
<text x="46.4" y="251.8" font-size="13.0" text-anchor="middle" font-weight="normal" font-style="normal" fill="#2a2a2a" stroke="#2a2a2a" stroke-width="0.3" textLength="6.9" lengthAdjust="spacingAndGlyphs">0</text>
<text x="46.4" y="392.4" font-size="13.0" text-anchor="middle" font-weight="normal" font-style="normal" fill="#2a2a2a" stroke="#2a2a2a" stroke-width="0.3" textLength="6.9" lengthAdjust="spacingAndGlyphs">0</text>
<text x="46.4" y="526.3" font-size="13.0" text-anchor="middle" font-weight="normal" font-style="normal" fill="#2a2a2a" stroke="#2a2a2a" stroke-width="0.3" textLength="6.9" lengthAdjust="spacingAndGlyphs">0</text>
<text x="46.4" y="659.1" font-size="13.0" text-anchor="middle" font-weight="normal" font-style="normal" fill="#2a2a2a" stroke="#2a2a2a" stroke-width="0.3" textLength="6.9" lengthAdjust="spacingAndGlyphs">0</text>
<text x="46.4" y="792.5" font-size="13.0" text-anchor="middle" font-weight="normal" font-style="normal" fill="#2a2a2a" stroke="#2a2a2a" stroke-width="0.3" textLength="6.9" lengthAdjust="spacingAndGlyphs">0</text>
<text x="68.6" y="824.2" font-size="12.4" text-anchor="middle" font-weight="normal" font-style="normal" fill="#222" stroke="#222" stroke-width="0.3" textLength="6.2" lengthAdjust="spacingAndGlyphs">5</text>
<text x="383.4" y="824.2" font-size="12.4" text-anchor="middle" font-weight="normal" font-style="normal" fill="#333" stroke="#333" stroke-width="0.0" textLength="12.4" lengthAdjust="spacingAndGlyphs">10</text>
<text x="699.6" y="824.2" font-size="12.4" text-anchor="middle" font-weight="normal" font-style="normal" fill="#333" stroke="#333" stroke-width="0.0" textLength="12.4" lengthAdjust="spacingAndGlyphs">15</text>
<text x="1015.6" y="824.2" font-size="12.4" text-anchor="middle" font-weight="normal" font-style="normal" fill="#222" stroke="#222" stroke-width="0.3" textLength="12.4" lengthAdjust="spacingAndGlyphs">20</text>
<text x="78.1" y="32.7" font-size="17.0" text-anchor="start" font-weight="normal" font-style="italic" fill="#000" stroke="#000" stroke-width="0.25" textLength="139.6" lengthAdjust="spacingAndGlyphs">L. brunneoincarnata</text>
<text x="103.3" y="160.0" font-size="17.0" text-anchor="start" font-weight="normal" font-style="italic" fill="#000" stroke="#000" stroke-width="0.25" textLength="90.1" lengthAdjust="spacingAndGlyphs">L. josserandii</text>
<text x="101.6" y="299.0" font-size="17.0" text-anchor="start" font-weight="normal" font-style="italic" fill="#000" stroke="#000" stroke-width="0.25" textLength="92.4" lengthAdjust="spacingAndGlyphs">G. marginata</text>
<text x="116.9" y="441.1" font-size="17.0" text-anchor="start" font-weight="normal" font-style="italic" fill="#000" stroke="#000" stroke-width="0.25" textLength="61.4" lengthAdjust="spacingAndGlyphs">A. virosa</text>
<text x="102.5" y="574.0" font-size="17.0" text-anchor="start" font-weight="normal" font-style="italic" fill="#000" stroke="#000" stroke-width="0.25" textLength="90.3" lengthAdjust="spacingAndGlyphs">A. phalloides</text>
<text x="128.0" y="596.9" font-size="17.0" text-anchor="start" font-weight="normal" font-style="normal" fill="#000" stroke="#000" stroke-width="0.25" textLength="40.4" lengthAdjust="spacingAndGlyphs">(Italy)</text>
<text x="102.5" y="709.5" font-size="17.0" text-anchor="start" font-weight="normal" font-style="italic" fill="#000" stroke="#000" stroke-width="0.25" textLength="90.3" lengthAdjust="spacingAndGlyphs">A. phalloides</text>
<text x="109.0" y="732.7" font-size="17.0" text-anchor="start" font-weight="normal" font-style="normal" fill="#000" stroke="#000" stroke-width="0.25" textLength="78.7" lengthAdjust="spacingAndGlyphs">(California)</text>
<text x="320.2" y="57.1" font-size="16.0" text-anchor="middle" font-weight="bold" font-style="normal" fill="#000">1</text>
<text x="352.8" y="32.6" font-size="16.0" text-anchor="middle" font-weight="bold" font-style="normal" fill="#000">2</text>
<text x="390.6" y="76.6" font-size="16.0" text-anchor="middle" font-weight="bold" font-style="normal" fill="#000">3</text>
<text x="455.7" y="43.4" font-size="16.0" text-anchor="middle" font-weight="bold" font-style="normal" fill="#000">7</text>
<text x="363.8" y="160.3" font-size="16.0" text-anchor="middle" font-weight="bold" font-style="normal" fill="#000">2</text>
<text x="408.3" y="197.8" font-size="16.0" text-anchor="middle" font-weight="bold" font-style="normal" fill="#000">5</text>
<text x="325.1" y="352.0" font-size="16.0" text-anchor="middle" font-weight="bold" font-style="normal" fill="#000">1</text>
<text x="357.9" y="299.3" font-size="16.0" text-anchor="middle" font-weight="bold" font-style="normal" fill="#000">2</text>
<text x="410.5" y="358.3" font-size="16.0" text-anchor="middle" font-weight="bold" font-style="normal" fill="#000">5</text>
<text x="352.6" y="436.9" font-size="16.0" text-anchor="middle" font-weight="bold" font-style="normal" fill="#000">2</text>
<text x="419.6" y="494.2" font-size="16.0" text-anchor="middle" font-weight="bold" font-style="normal" fill="#000">6</text>
<text x="455.5" y="471.5" font-size="16.0" text-anchor="middle" font-weight="bold" font-style="normal" fill="#000">7</text>
<text x="481.1" y="453.2" font-size="16.0" text-anchor="middle" font-weight="bold" font-style="normal" fill="#000">8</text>
<text x="732.8" y="437.1" font-size="16.0" text-anchor="middle" font-weight="bold" font-style="normal" fill="#000">10</text>
<text x="803.0" y="501.1" font-size="16.0" text-anchor="middle" font-weight="bold" font-style="normal" fill="#000">12</text>
<text x="823.3" y="471.3" font-size="16.0" text-anchor="middle" font-weight="bold" font-style="normal" fill="#000">13</text>
<text x="846.8" y="501.6" font-size="16.0" text-anchor="middle" font-weight="bold" font-style="normal" fill="#000">14</text>
<text x="320.1" y="598.9" font-size="16.0" text-anchor="middle" font-weight="bold" font-style="normal" fill="#000">1</text>
<text x="353.9" y="568.4" font-size="16.0" text-anchor="middle" font-weight="bold" font-style="normal" fill="#000">2</text>
<text x="383.2" y="624.2" font-size="16.0" text-anchor="middle" font-weight="bold" font-style="normal" fill="#000">3</text>
<text x="401.6" y="614.8" font-size="16.0" text-anchor="middle" font-weight="bold" font-style="normal" fill="#000">4</text>
<text x="420.5" y="624.2" font-size="16.0" text-anchor="middle" font-weight="bold" font-style="normal" fill="#000">6</text>
<text x="481.1" y="595.4" font-size="16.0" text-anchor="middle" font-weight="bold" font-style="normal" fill="#000">8</text>
<text x="553.4" y="633.8" font-size="16.0" text-anchor="middle" font-weight="bold" font-style="normal" fill="#000">9</text>
<text x="709.5" y="604.6" font-size="16.0" text-anchor="middle" font-weight="bold" font-style="normal" fill="#000">10</text>
<text x="733.6" y="625.7" font-size="16.0" text-anchor="middle" font-weight="bold" font-style="normal" fill="#000">11</text>
<text x="845.1" y="634.4" font-size="16.0" text-anchor="middle" font-weight="bold" font-style="normal" fill="#000">14</text>
<text x="333.2" y="700.6" font-size="16.0" text-anchor="middle" font-weight="bold" font-style="normal" fill="#000">1</text>
<text x="352.1" y="721.7" font-size="16.0" text-anchor="middle" font-weight="bold" font-style="normal" fill="#000">2</text>
<text x="384.0" y="743.3" font-size="16.0" text-anchor="middle" font-weight="bold" font-style="normal" fill="#000">3</text>
<text x="401.6" y="733.4" font-size="16.0" text-anchor="middle" font-weight="bold" font-style="normal" fill="#000">4</text>
<text x="479.8" y="721.0" font-size="16.0" text-anchor="middle" font-weight="bold" font-style="normal" fill="#000">8</text>
<text x="552.0" y="762.2" font-size="16.0" text-anchor="middle" font-weight="bold" font-style="normal" fill="#000">9</text>
<text x="707.2" y="705.3" font-size="16.0" text-anchor="middle" font-weight="bold" font-style="normal" fill="#000">10</text>
<text x="732.6" y="739.8" font-size="16.0" text-anchor="middle" font-weight="bold" font-style="normal" fill="#000">11</text>
<text x="843.2" y="763.9" font-size="16.0" text-anchor="middle" font-weight="bold" font-style="normal" fill="#000">14</text>
<text x="0.0" y="0.0" font-size="18.0" text-anchor="middle" font-weight="bold" font-style="normal" fill="#000" transform="translate(15.7,378) rotate(-90)" textLength="174" lengthAdjust="spacingAndGlyphs">Absorbance, mAU</text>
<text x="554.4" y="841.7" font-size="19.6" text-anchor="middle" font-weight="bold" font-style="normal" fill="#000" textLength="181" lengthAdjust="spacingAndGlyphs">Elution time, minutes</text>
</svg>
</body></html>
